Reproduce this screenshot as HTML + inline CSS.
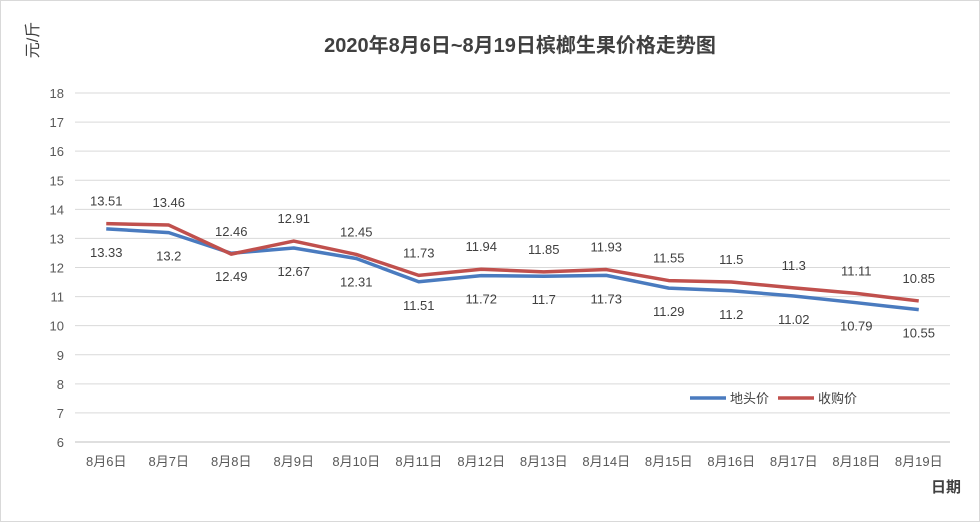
<!DOCTYPE html>
<html><head><meta charset="utf-8"><style>
body{margin:0;background:#fff}
svg{display:block;font-family:"Liberation Sans","Noto Sans CJK SC",sans-serif}
</style></head><body>
<svg id="c" width="980" height="522">
<rect x="0.5" y="0.5" width="979" height="521" fill="#fff" stroke="#d9d9d9"/>
<text x="520" y="52" text-anchor="middle" font-size="20" font-weight="bold" fill="#404040">2020年8月6日~8月19日槟榔生果价格走势图</text>
<text transform="translate(38,40) rotate(-90)" text-anchor="middle" font-size="16" fill="#404040">元/斤</text>
<text x="946" y="492" text-anchor="middle" font-size="15" font-weight="bold" fill="#404040">日期</text>
<g id="grid"></g><g id="lines"></g><g id="labels"></g>
<g>
<line x1="690" y1="398" x2="726" y2="398" stroke="#4a7bbf" stroke-width="3.5"/>
<text x="730" y="403" font-size="13" fill="#404040">地头价</text>
<line x1="778" y1="398" x2="814" y2="398" stroke="#c0504d" stroke-width="3.5"/>
<text x="818" y="403" font-size="13" fill="#404040">收购价</text>
</g>
</svg>
<script>
const categories=["8月6日","8月7日","8月8日","8月9日","8月10日","8月11日","8月12日","8月13日","8月14日","8月15日","8月16日","8月17日","8月18日","8月19日"];
const buyPrice=[13.51,13.46,12.46,12.91,12.45,11.73,11.94,11.85,11.93,11.55,11.5,11.3,11.11,10.85];
const farmPrice=[13.33,13.2,12.49,12.67,12.31,11.51,11.72,11.7,11.73,11.29,11.2,11.02,10.79,10.55];
const yTicks=[6,7,8,9,10,11,12,13,14,15,16,17,18];
const NS="http://www.w3.org/2000/svg";
const L=75,R=950,T=93,B=442,ymin=6,ymax=18;
const band=(R-L)/categories.length;
const xs=i=>L+band*(i+0.5);
const ys=v=>B-(v-ymin)/(ymax-ymin)*(B-T);
function mk(tag,attrs,parent,txt){const e=document.createElementNS(NS,tag);for(const k in attrs)e.setAttribute(k,attrs[k]);if(txt!=null)e.textContent=txt;parent.appendChild(e);return e;}
const grid=document.getElementById('grid'),lines=document.getElementById('lines'),labels=document.getElementById('labels');
yTicks.forEach(v=>{
  const g=mk('line',{x1:L,x2:R,y1:ys(v),y2:ys(v),stroke:v===ymin?'#bfbfbf':'#d9d9d9'},grid);
  
  
  const t=mk('text',{x:64,y:ys(v)+5,'text-anchor':'end','font-size':13,fill:'#595959'},grid,v);
  
  
});
categories.forEach((c,i)=>{
  const t=mk('text',{x:xs(i),y:466,'text-anchor':'middle','font-size':13,fill:'#595959'},grid,c);
  
  
});
function series(vals,color,name,off){
  const p=mk('polyline',{points:vals.map((v,i)=>xs(i)+','+ys(v)).join(' '),fill:'none',stroke:color,'stroke-width':3.5,'stroke-linejoin':'round'},lines);
  
  
  vals.forEach((v,i)=>{
    const t=mk('text',{x:xs(i),y:ys(v)+off,'text-anchor':'middle','font-size':13,fill:'#404040'},labels,v);
    
    
  });
}
series(farmPrice,'#4a7bbf','farm-price',28);
series(buyPrice,'#c0504d','buy-price',-18);
</script>
</body></html>
